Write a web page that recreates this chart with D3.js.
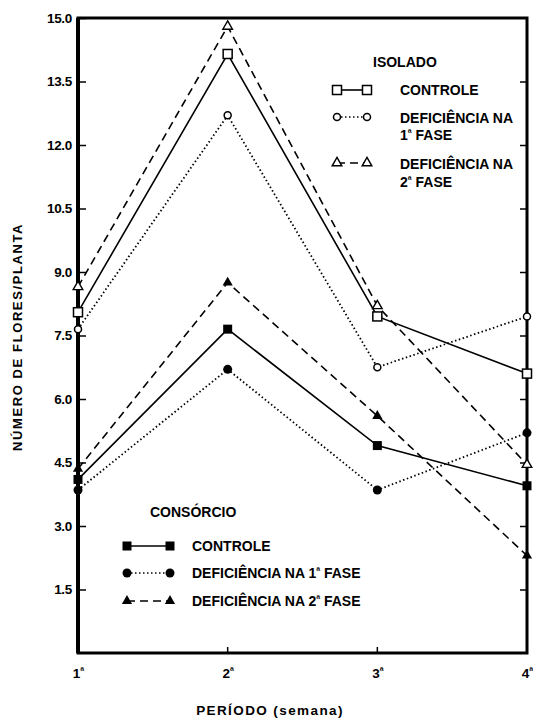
<!DOCTYPE html>
<html><head><meta charset="utf-8">
<script src="https://cdn.jsdelivr.net/npm/d3@7"></script>
<style>
body{margin:0;background:#fff;}
text{font-family:"Liberation Sans",Arial,sans-serif;font-weight:bold;fill:#000;}
</style></head>
<body><svg id="c" width="533" height="718"></svg>
<script>
const periods = ["1", "2", "3", "4"];
const yTicks = [1.5, 3.0, 4.5, 6.0, 7.5, 9.0, 10.5, 12.0, 13.5, 15.0];
const isoControle = [8.05, 14.15, 7.95, 6.6];
const isoDef1 = [7.65, 12.7, 6.75, 7.95];
const isoDef2 = [8.65, 14.8, 8.2, 4.45];
const consControle = [4.1, 7.65, 4.9, 3.95];
const consDef1 = [3.85, 6.7, 3.85, 5.2];
const consDef2 = [4.35, 8.75, 5.6, 2.3];

const svg = d3.select("#c");
const L = 78, R = 527, T = 18, B = 653;
const x = d3.scalePoint().domain(periods).range([L, R]);
const y = d3.scaleLinear().domain([0, 15]).range([B, T]);

// frame
svg.append("rect").attr("x", L).attr("y", T).attr("width", R - L).attr("height", B - T)
  .attr("fill", "none").attr("stroke", "#000").attr("stroke-width", 3);
svg.append("line").attr("x1", L).attr("x2", L).attr("y1", T).attr("y2", B)
  .attr("stroke", "#000").attr("stroke-width", 4);

// left axis
const gl = svg.append("g").attr("transform", `translate(${L},0)`)
  .call(d3.axisLeft(y).tickValues(yTicks).tickSize(-8).tickPadding(6).tickFormat(d3.format(".1f")));
gl.select(".domain").remove();
gl.selectAll(".tick line").attr("stroke", "#000").attr("stroke-width", 1.5);
gl.selectAll(".tick text").attr("font-size", 13.5).attr("letter-spacing", -0.3)
  .style("font-family", "'Liberation Sans',Arial,sans-serif").style("font-weight", "bold");

// right axis ticks
const gr = svg.append("g").attr("transform", `translate(${R},0)`)
  .call(d3.axisRight(y).tickValues(yTicks.filter(d => d < 15)).tickSize(-7).tickFormat(""));
gr.select(".domain").remove();
gr.selectAll(".tick line").attr("stroke", "#000").attr("stroke-width", 1.5);

// bottom axis
const gb = svg.append("g").attr("transform", `translate(0,${B})`)
  .call(d3.axisBottom(x).tickSize(0).tickFormat(""));
gb.select(".domain").remove();
svg.append("g").selectAll("line").data(periods.slice(1, 3)).join("line")
  .attr("x1", d => x(d)).attr("x2", d => x(d)).attr("y1", B).attr("y2", B - 6)
  .attr("stroke", "#000").attr("stroke-width", 1.5);
gb.selectAll(".tick").each(function(d) {
  const t = d3.select(this).append("text").attr("y", 25).attr("font-size", 13.5).attr("text-anchor", "middle");
  t.append("tspan").text(d);
  t.append("tspan").attr("font-size", 10.5).attr("dy", -3).text("ª");
});

// axis titles
svg.append("text").attr("transform", `translate(22,337) rotate(-90)`).attr("text-anchor", "middle")
  .attr("font-size", 13).attr("letter-spacing", 1.6).text("NÚMERO DE FLORES/PLANTA");
svg.append("text").attr("x", 270).attr("y", 715).attr("text-anchor", "middle")
  .attr("font-size", 13.5).attr("letter-spacing", 1.4).text("PERÍODO (semana)");

const styles = {
  solid: null,
  dotted: "1.5,2.5",
  dashed: "8,5"
};

function marker(g, type, cx, cy) {
  if (type === "osq") g.append("rect").attr("x", cx - 4.5).attr("y", cy - 4.5).attr("width", 9).attr("height", 9).attr("fill", "#fff").attr("stroke", "#000").attr("stroke-width", 1.5);
  if (type === "fsq") g.append("rect").attr("x", cx - 4.5).attr("y", cy - 4.5).attr("width", 9).attr("height", 9).attr("fill", "#000");
  if (type === "oci") g.append("circle").attr("cx", cx).attr("cy", cy).attr("r", 3.5).attr("fill", "#fff").attr("stroke", "#000").attr("stroke-width", 1.5);
  if (type === "fci") g.append("circle").attr("cx", cx).attr("cy", cy).attr("r", 4.5).attr("fill", "#000");
  if (type === "otr") g.append("path").attr("d", d3.symbol(d3.symbolTriangle, 40)()).attr("transform", `translate(${cx},${cy})`).attr("fill", "#fff").attr("stroke", "#000").attr("stroke-width", 1.4);
  if (type === "ftr") g.append("path").attr("d", d3.symbol(d3.symbolTriangle, 45)()).attr("transform", `translate(${cx},${cy})`).attr("fill", "#000");
}

const series = [
  {v: isoControle, s: "solid", m: "osq"},
  {v: isoDef1, s: "dotted", m: "oci"},
  {v: isoDef2, s: "dashed", m: "otr"},
  {v: consControle, s: "solid", m: "fsq"},
  {v: consDef1, s: "dotted", m: "fci"},
  {v: consDef2, s: "dashed", m: "ftr"}
];
const line = d3.line().x((d, i) => x(periods[i])).y(d => y(d));
series.forEach(sr => {
  svg.append("path").attr("d", line(sr.v)).attr("fill", "none").attr("stroke", "#000")
    .attr("stroke-width", sr.s === "dotted" ? 1.8 : 1.6).attr("stroke-dasharray", styles[sr.s]);
});
series.forEach(sr => {
  const g = svg.append("g");
  sr.v.forEach((d, i) => marker(g, sr.m, x(periods[i]), y(d)));
});

// legends
function legEntry(x1, x2, yy, s, m) {
  svg.append("line").attr("x1", x1).attr("x2", x2).attr("y1", yy).attr("y2", yy)
    .attr("stroke", "#000").attr("stroke-width", 1.6).attr("stroke-dasharray", styles[s]);
  const g = svg.append("g");
  marker(g, m, x1, yy); marker(g, m, x2, yy);
}
function ordText(xx, yy, parts) {
  const t = svg.append("text").attr("x", xx).attr("y", yy).attr("font-size", 14);
  parts.forEach(p => {
    if (p.sup) t.append("tspan").attr("font-size", 10.5).attr("dy", -3).text(p.t);
    else t.append("tspan").attr("dy", p.dy || 0).text(p.t);
  });
  return t;
}
svg.append("text").attr("x", 373).attr("y", 67).attr("font-size", 14).text("ISOLADO");
legEntry(337, 367, 90, "solid", "osq");
ordText(400, 95, [{t: "CONTROLE"}]);
legEntry(337, 367, 117, "dotted", "oci");
ordText(400, 123, [{t: "DEFICIÊNCIA NA"}]);
ordText(400, 140, [{t: "1"}, {t: "ª", sup: true}, {t: " FASE", dy: 3}]);
legEntry(337, 367, 163, "dashed", "otr");
ordText(400, 169, [{t: "DEFICIÊNCIA NA"}]);
ordText(400, 187, [{t: "2"}, {t: "ª", sup: true}, {t: " FASE", dy: 3}]);

svg.append("text").attr("x", 150).attr("y", 517).attr("font-size", 14).text("CONSÓRCIO");
legEntry(127, 170, 546, "solid", "fsq");
ordText(192, 551, [{t: "CONTROLE"}]);
legEntry(127, 170, 573, "dotted", "fci");
ordText(192, 578, [{t: "DEFICIÊNCIA NA 1"}, {t: "ª", sup: true}, {t: " FASE", dy: 3}]);
legEntry(127, 170, 601, "dashed", "ftr");
ordText(192, 606, [{t: "DEFICIÊNCIA NA 2"}, {t: "ª", sup: true}, {t: " FASE", dy: 3}]);
</script></body></html>
